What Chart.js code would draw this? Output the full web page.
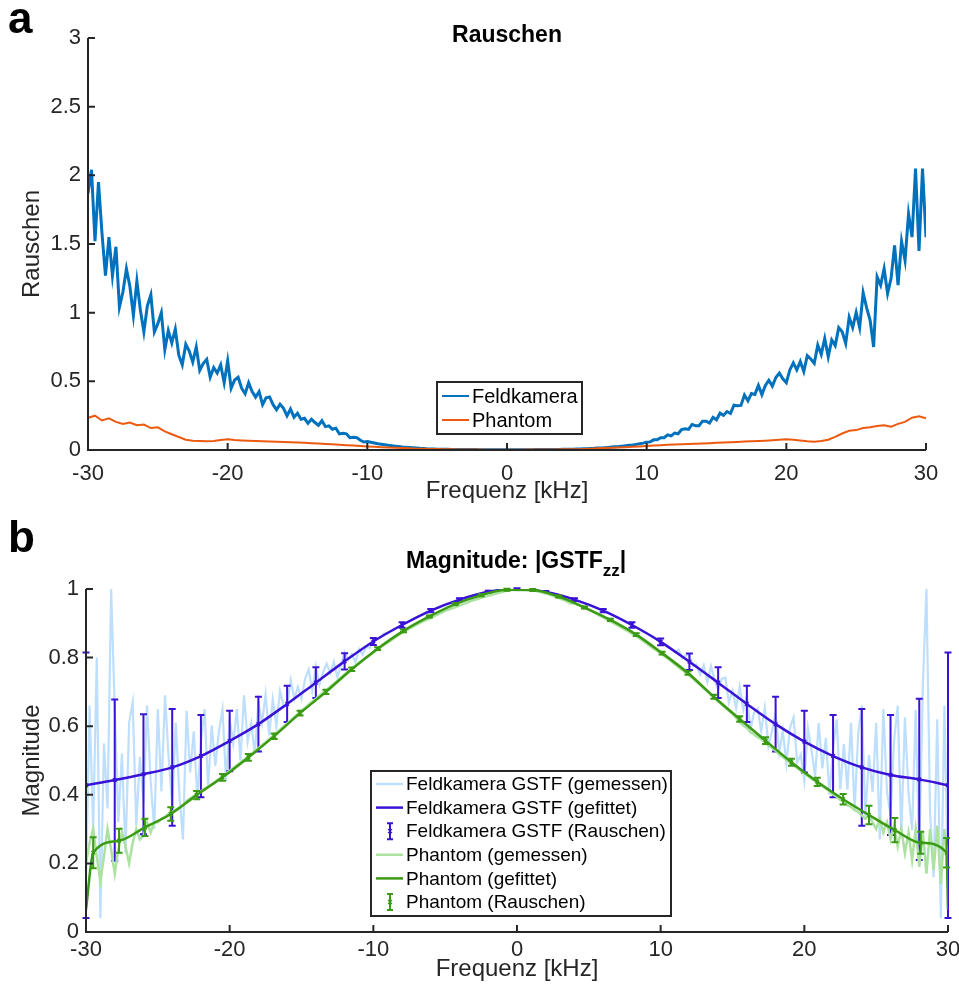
<!DOCTYPE html>
<html>
<head>
<meta charset="utf-8">
<script src="https://cdn.jsdelivr.net/npm/chart.js@4.4.1/dist/chart.umd.min.js"></script>
<style>
  html, body { margin: 0; padding: 0; background: #fff; }
  body { width: 959px; height: 989px; position: relative; overflow: hidden; }
  .panel { position: absolute; left: 0; width: 959px; }
</style>
</head>
<body>
<div class="panel" style="top:0;height:515px"><canvas id="chartA"></canvas></div>
<div class="panel" style="top:500px;height:489px"><canvas id="chartB"></canvas></div>
<script>
// ---- panel a: Rauschen ----
// Feldkamera, sampled every 0.25 kHz from -30 to 30
const feldRauschen = [
  1.87, 2.04, 1.52, 1.95,  1.58, 1.27, 1.55, 1.27,  1.48, 1.04, 1.15, 1.32,  1.19, 0.98, 1.23, 1.02,
  0.86, 1.05, 1.13, 0.86,  0.92, 1.00, 0.73, 0.87,  0.78, 0.88, 0.69, 0.62,  0.77, 0.72, 0.64, 0.75,
  0.58, 0.63, 0.66, 0.53,  0.60, 0.56, 0.62, 0.49,  0.65, 0.45, 0.51, 0.53,  0.45, 0.41, 0.49, 0.425,
  0.385, 0.425, 0.33, 0.38,  0.386, 0.33, 0.293, 0.333,  0.304, 0.249, 0.298, 0.239,  0.267, 0.224, 0.231, 0.194,
  0.225, 0.20, 0.18, 0.213,  0.17, 0.176, 0.151, 0.159,  0.117, 0.122, 0.118, 0.09,  0.093, 0.09, 0.071, 0.058,
  0.062, 0.056, 0.051, 0.046,  0.042, 0.038, 0.034, 0.031,  0.028, 0.025, 0.022, 0.020,  0.018, 0.016, 0.014, 0.012,
  0.011, 0.009, 0.008, 0.007,  0.006, 0.006, 0.005, 0.005,  0.004, 0.004, 0.004, 0.003,  0.003, 0.003, 0.003, 0.003,
  0.002, 0.002, 0.002, 0.002,  0.002, 0.002, 0.002, 0.002,
  0.002,
  0.002, 0.002, 0.002,  0.002, 0.002, 0.002, 0.002,  0.003, 0.003, 0.003, 0.003,  0.003, 0.004, 0.004, 0.004,
  0.005, 0.005, 0.006, 0.006,  0.007, 0.008, 0.009, 0.010,  0.011, 0.012, 0.014, 0.015,  0.017, 0.019, 0.021, 0.023,
  0.025, 0.028, 0.031, 0.034,  0.037, 0.041, 0.045, 0.050,  0.057, 0.059, 0.074, 0.075,  0.089, 0.089, 0.11, 0.103,
  0.123, 0.118, 0.149, 0.155,  0.15, 0.186, 0.177, 0.177,  0.21, 0.21, 0.197, 0.237,  0.22, 0.268, 0.252, 0.28,
  0.266, 0.326, 0.322, 0.325,  0.40, 0.358, 0.411, 0.405,  0.47, 0.403, 0.47, 0.508,  0.465, 0.528, 0.56, 0.518,
  0.49, 0.583, 0.634, 0.583,  0.645, 0.572, 0.687, 0.663,  0.632, 0.764, 0.696, 0.812,  0.679, 0.801, 0.76, 0.891,
  0.861, 0.776, 0.966, 0.892,  1.002, 0.892, 1.145, 1.035,  0.945, 0.75, 1.26, 1.20,  1.32, 1.14, 1.25, 1.49,
  1.20, 1.52, 1.38, 1.72,  1.55, 2.05, 1.45, 2.05,
  1.55
];
// Phantom, sampled every 0.5 kHz from -30 to 30
const phantomRauschen = [
  0.235, 0.25,  0.215, 0.23,  0.205, 0.19,  0.20, 0.18,  0.185, 0.16,  0.165, 0.135,  0.115, 0.095,  0.075, 0.068,
  0.065, 0.063,  0.066, 0.072,  0.078, 0.072,  0.07, 0.068,  0.066, 0.064,  0.062, 0.06,  0.058, 0.056,  0.054, 0.052,
  0.05, 0.047,  0.044, 0.041,  0.038, 0.035,  0.032, 0.029,  0.026, 0.023,  0.02, 0.018,  0.016, 0.014,  0.012, 0.01,
  0.009, 0.008,  0.007, 0.006,  0.005, 0.004,  0.004, 0.003,  0.003, 0.002,  0.002, 0.002,
  0.002,
  0.002,  0.002, 0.003,  0.003, 0.003,  0.004, 0.004,  0.005, 0.005,  0.006, 0.008,  0.010, 0.012,  0.014, 0.016,
  0.018, 0.020,  0.023, 0.026,  0.029, 0.032,  0.035, 0.038,  0.040, 0.042,  0.044, 0.046,  0.048, 0.050,  0.052, 0.055,
  0.057, 0.059,  0.061, 0.063,  0.065, 0.068,  0.071, 0.075,  0.078, 0.074,  0.070, 0.064,  0.060, 0.065,  0.075, 0.095,
  0.12, 0.14,  0.145, 0.16,  0.165, 0.175,  0.18, 0.17,  0.19, 0.205,  0.235, 0.245,
  0.23
];

// ---- panel b: Magnitude |GSTF_zz| ----
// measured, every 0.25 kHz from -30 to 30
const feldGemessen = [
  0.15, 0.66, 0.30, 0.80,  0.04, 0.55, 0.36, 1.00,  0.65, 0.32, 0.52, 0.23,  0.61, 0.67, 0.31, 0.51,
  0.38, 0.66, 0.44, 0.30,  0.65, 0.41, 0.69, 0.51,  0.37, 0.61, 0.40, 0.27,  0.645, 0.465, 0.585, 0.39,
  0.554, 0.65, 0.422, 0.602,  0.484, 0.583, 0.649, 0.44,  0.62, 0.55, 0.65, 0.50,  0.69, 0.555, 0.609, 0.519,
  0.672, 0.609, 0.693, 0.574,  0.678, 0.60, 0.702, 0.66,  0.66, 0.735, 0.68, 0.715,  0.68, 0.738, 0.765, 0.702,
  0.775, 0.722, 0.757, 0.782,  0.755, 0.788, 0.743, 0.779,  0.816, 0.794, 0.81, 0.786,  0.825, 0.809, 0.832, 0.828,
  0.847, 0.855, 0.86, 0.87,  0.872, 0.878, 0.885, 0.89,  0.895, 0.90, 0.906, 0.912,  0.917, 0.922, 0.927, 0.932,
  0.937, 0.941, 0.945, 0.949,  0.953, 0.957, 0.961, 0.965,  0.969, 0.972, 0.975, 0.978,  0.981, 0.984, 0.986, 0.988,
  0.991, 0.993, 0.995, 0.996,  0.997, 0.998, 0.999, 1.0,
  1.0,
  1.0, 0.999, 0.998,  0.997, 0.996, 0.995, 0.993,  0.991, 0.988, 0.986, 0.984,  0.981, 0.978, 0.975, 0.972,
  0.969, 0.965, 0.961, 0.957,  0.953, 0.949, 0.945, 0.941,  0.937, 0.932, 0.927, 0.922,  0.917, 0.912, 0.906, 0.90,
  0.895, 0.89, 0.885, 0.878,  0.872, 0.866, 0.86, 0.853,  0.846, 0.84, 0.832, 0.824,  0.816, 0.823, 0.798, 0.806,
  0.808, 0.775, 0.78, 0.75,  0.778, 0.729, 0.775, 0.735,  0.706, 0.738, 0.742, 0.669,  0.704, 0.653, 0.715, 0.647,
  0.69, 0.59, 0.64, 0.65,  0.586, 0.654, 0.542, 0.586,  0.64, 0.523, 0.588, 0.492,  0.595, 0.626, 0.495, 0.517,
  0.44, 0.595, 0.53, 0.455,  0.609, 0.477, 0.566, 0.40,  0.536, 0.62, 0.416, 0.548,  0.415, 0.61, 0.355, 0.58,
  0.66, 0.336, 0.516, 0.408,  0.61, 0.27, 0.65, 0.41,  0.34, 0.56, 0.66, 0.28,  0.626, 0.406, 0.296, 0.648,
  0.22, 0.72, 1.00, 0.35,  0.16, 0.62, 0.04, 0.66,
  0.15
];
const phantomGemessen = [
  0.20, 0.26, 0.30, 0.22,  0.15, 0.22, 0.30, 0.24,  0.17, 0.24, 0.29, 0.25,  0.20, 0.26, 0.30, 0.27,
  0.28, 0.32, 0.29, 0.32,  0.32, 0.33, 0.335, 0.345,  0.35, 0.356, 0.363, 0.37,  0.382, 0.389, 0.396, 0.403,
  0.41, 0.418, 0.425, 0.431,  0.438, 0.446, 0.454, 0.462,  0.47, 0.478, 0.486, 0.494,  0.502, 0.511, 0.519, 0.528,
  0.536, 0.545, 0.553, 0.562,  0.571, 0.58, 0.59, 0.599,  0.608, 0.617, 0.627, 0.636,  0.645, 0.654, 0.663, 0.672,
  0.68, 0.689, 0.698, 0.706,  0.715, 0.724, 0.733, 0.742,  0.751, 0.76, 0.768, 0.776,  0.784, 0.792, 0.80, 0.807,
  0.815, 0.822, 0.83, 0.837,  0.844, 0.851, 0.858, 0.865,  0.872, 0.878, 0.884, 0.89,  0.896, 0.901, 0.906, 0.911,
  0.916, 0.921, 0.926, 0.931,  0.936, 0.94, 0.944, 0.948,  0.952, 0.956, 0.96, 0.964,  0.968, 0.971, 0.974, 0.977,
  0.98, 0.983, 0.986, 0.989,  0.992, 0.995, 0.997, 0.999,
  1.0,
  1.0, 0.999, 0.998,  0.997, 0.995, 0.993, 0.99,  0.987, 0.984, 0.98, 0.976,  0.972, 0.968, 0.963, 0.958,
  0.958, 0.954, 0.95, 0.945,  0.94, 0.934, 0.928, 0.922,  0.917, 0.912, 0.906, 0.90,  0.894, 0.888, 0.882, 0.876,
  0.87, 0.864, 0.857, 0.849,  0.842, 0.834, 0.827, 0.82,  0.813, 0.805, 0.797, 0.789,  0.78, 0.772, 0.764, 0.756,
  0.748, 0.739, 0.729, 0.72,  0.71, 0.701, 0.691, 0.682,  0.672, 0.663, 0.654, 0.645,  0.636, 0.624, 0.612, 0.602,
  0.595, 0.583, 0.576, 0.568,  0.562, 0.553, 0.544, 0.537,  0.528, 0.518, 0.51, 0.502,  0.494, 0.485, 0.478, 0.47,
  0.462, 0.455, 0.447, 0.44,  0.432, 0.425, 0.418, 0.41,  0.40, 0.395, 0.385, 0.38,  0.37, 0.365, 0.355, 0.35,
  0.34, 0.33, 0.34, 0.32,  0.30, 0.33, 0.29, 0.32,  0.27, 0.31, 0.25, 0.30,  0.23, 0.29, 0.21, 0.30,
  0.19, 0.29, 0.17, 0.30,  0.18, 0.31, 0.14, 0.30,
  0.20
];

// fitted + noise (error bars)
const feldX = [-30, -28, -26, -24, -22, -20, -18, -16, -14, -12, -10, -8, -6, -4, -2, 0,
               2, 4, 6, 8, 10, 12, 14, 16, 18, 20, 22, 24, 26, 28, 30];
const feldFit = [0.428, 0.443, 0.46, 0.48, 0.513, 0.557, 0.606, 0.665, 0.727, 0.789, 0.847, 0.895, 0.937, 0.969, 0.992, 1.0,
                 0.991, 0.969, 0.937, 0.895, 0.846, 0.788, 0.727, 0.665, 0.606, 0.555, 0.513, 0.48, 0.458, 0.445, 0.428];
const feldErr = [0.387, 0.235, 0.175, 0.17, 0.12, 0.088, 0.08, 0.053, 0.045, 0.024, 0.01, 0.008, 0.005, 0.004, 0.003, 0.002,
                 0.003, 0.004, 0.005, 0.008, 0.01, 0.024, 0.045, 0.053, 0.08, 0.09, 0.12, 0.17, 0.175, 0.235, 0.387];

const phantomX = [-29.5, -27.7, -25.9, -24.1, -22.3, -20.5, -18.7, -16.9, -15.1, -13.3, -11.5, -9.7, -7.9, -6.1, -4.3, -2.5, -0.7,
                  1.1, 2.9, 4.7, 6.5, 8.3, 10.1, 11.9, 13.7, 15.5, 17.3, 19.1, 20.9, 22.7, 24.5, 26.3, 28.1, 29.9];
const phantomFit = [0.231, 0.266, 0.305, 0.344, 0.399, 0.451, 0.509, 0.571, 0.638, 0.70, 0.766, 0.826, 0.878, 0.92, 0.956, 0.982, 0.998,
                    0.997, 0.978, 0.946, 0.91, 0.867, 0.813, 0.755, 0.686, 0.621, 0.558, 0.495, 0.438, 0.387, 0.341, 0.297, 0.26, 0.231];
const phantomErr = [0.045, 0.035, 0.025, 0.02, 0.012, 0.01, 0.01, 0.008, 0.007, 0.006, 0.005, 0.004, 0.004, 0.003, 0.003, 0.003, 0.003,
                    0.003, 0.003, 0.003, 0.003, 0.004, 0.004, 0.005, 0.006, 0.008, 0.01, 0.01, 0.012, 0.015, 0.027, 0.035, 0.032, 0.043];
// the fitted phantom curve drops at the band edges
const phantomFitEdgeX = [-30, 30];
const phantomFitEdgeY = [0.065, 0.064];

const xTicks = [-30, -20, -10, 0, 10, 20, 30];

const FONT = '"Liberation Sans", Arial, Helvetica, sans-serif';
const AXIS = '#262626';
const C = {
  feld: '#0072bd', phantom: '#ec5a10',
  feldMeas: '#bddffd', feldFit: '#3a12d6',
  phMeas: '#abe29f', phFit: '#3b9a14'
};

Chart.defaults.font.family = FONT;
Chart.defaults.color = AXIS;

function grid(n, step) {
  const g = [];
  for (let i = 0; i < n; i++) g.push(-30 + i * step);
  return g;
}
const pts = (xs, ys) => xs.map((x, i) => ({ x, y: ys[i] }));

const freq025 = grid(241, 0.25);
const freq05 = grid(121, 0.5);

const errorBars = {
  id: 'errorBars',
  afterDatasetDraw(chart, args) {
    const ds = chart.data.datasets[args.index];
    if (!ds.errors) return;
    const { ctx, scales: { x, y } } = chart;
    ctx.save();
    ctx.strokeStyle = ds.borderColor;
    ctx.lineWidth = 2;
    ctx.beginPath();
    ds.data.forEach((p, i) => {
      const px = x.getPixelForValue(p.x);
      const top = y.getPixelForValue(p.y + ds.errors[i]);
      const bot = y.getPixelForValue(p.y - ds.errors[i]);
      ctx.moveTo(px, top); ctx.lineTo(px, bot);
      ctx.moveTo(px - 3.5, top); ctx.lineTo(px + 3.5, top);
      ctx.moveTo(px - 3.5, bot); ctx.lineTo(px + 3.5, bot);
    });
    ctx.stroke();
    ctx.restore();
  }
};

function decor(cfg) {
  return {
    id: 'decor',
    afterDraw(chart) {
      const { ctx, chartArea: a, scales: { x, y } } = chart;
      ctx.save();
      // axes + inward ticks
      ctx.strokeStyle = AXIS;
      ctx.lineWidth = 2;
      ctx.beginPath();
      ctx.moveTo(a.left, a.top); ctx.lineTo(a.left, a.bottom); ctx.lineTo(a.right, a.bottom);
      x.ticks.forEach(t => {
        const px = x.getPixelForValue(t.value);
        ctx.moveTo(px, a.bottom); ctx.lineTo(px, a.bottom - 7);
      });
      y.ticks.forEach(t => {
        const py = y.getPixelForValue(t.value);
        ctx.moveTo(a.left, py); ctx.lineTo(a.left + 7, py);
      });
      ctx.stroke();

      // panel letter
      ctx.fillStyle = '#000';
      ctx.font = 'bold 44px ' + FONT;
      ctx.textAlign = 'left';
      ctx.textBaseline = 'alphabetic';
      ctx.fillText(cfg.letter, 8, cfg.letterY);

      // title (with optional subscript part)
      const parts = cfg.title;
      const fontFor = p => 'bold ' + (p.sub ? 17 : 23) + 'px ' + FONT;
      let total = 0;
      parts.forEach(p => { ctx.font = fontFor(p); total += ctx.measureText(p.text).width; });
      let tx = cfg.titleX - total / 2;
      ctx.textBaseline = 'middle';
      parts.forEach(p => {
        ctx.font = fontFor(p);
        ctx.fillText(p.text, tx, cfg.titleY + (p.sub ? 9 : 0));
        tx += ctx.measureText(p.text).width;
      });

      // legend
      const L = cfg.legend;
      ctx.fillStyle = '#fff';
      ctx.fillRect(L.x, L.y, L.w, L.h);
      ctx.strokeStyle = AXIS;
      ctx.lineWidth = 2;
      ctx.strokeRect(L.x, L.y, L.w, L.h);
      ctx.font = L.size + 'px ' + FONT;
      ctx.textBaseline = 'middle';
      L.items.forEach((it, i) => {
        const ry = L.y + L.row0 + i * L.gap;
        ctx.strokeStyle = it.color;
        ctx.lineWidth = it.width;
        ctx.beginPath();
        if (it.err) {
          const cx = L.x + 19;
          ctx.moveTo(cx, ry - 8); ctx.lineTo(cx, ry + 8);
          ctx.moveTo(cx - 3, ry - 8); ctx.lineTo(cx + 3, ry - 8);
          ctx.moveTo(cx - 3, ry + 8); ctx.lineTo(cx + 3, ry + 8);
          ctx.stroke();
          ctx.lineWidth = 1.2;
          ctx.beginPath();
          ctx.moveTo(cx - 2, ry - 2); ctx.lineTo(cx + 2, ry + 2);
          ctx.moveTo(cx - 2, ry + 2); ctx.lineTo(cx + 2, ry - 2);
        } else {
          ctx.moveTo(L.x + 5, ry); ctx.lineTo(L.x + L.lineEnd, ry);
        }
        ctx.stroke();
        ctx.fillStyle = '#000';
        ctx.fillText(it.label, L.x + L.textX, ry + 1);
      });
      ctx.restore();
    }
  };
}

const fmt = v => String(+Number(v).toFixed(2));

function axes(yMax, yStep, yLabel, yWidth, xHeight, xPad, xTitlePad) {
  return {
    x: {
      type: 'linear', min: -30, max: 30,
      afterBuildTicks: s => { s.ticks = xTicks.map(v => ({ value: v })); },
      grid: { display: false, drawTicks: false },
      border: { display: false },
      ticks: { font: { size: 22 }, color: AXIS, padding: xPad, maxRotation: 0, callback: fmt },
      title: { display: true, text: 'Frequenz [kHz]', font: { size: 24 }, color: AXIS, padding: { top: 0, bottom: xTitlePad } },
      afterFit: s => { s.height = xHeight; s.paddingLeft = 0; s.paddingRight = 0; }
    },
    y: {
      type: 'linear', min: 0, max: yMax,
      grid: { display: false, drawTicks: false },
      border: { display: false },
      ticks: { stepSize: yStep, font: { size: 22 }, color: AXIS, padding: 7, callback: fmt },
      title: { display: true, text: yLabel, font: { size: 24 }, color: AXIS, padding: { top: 18, bottom: 0 } },
      afterFit: s => { s.width = yWidth; s.paddingTop = 0; s.paddingBottom = 0; }
    }
  };
}

const common = {
  responsive: true,
  maintainAspectRatio: false,
  animation: false,
  events: [],
  plugins: { legend: { display: false }, tooltip: { enabled: false }, title: { display: false } }
};

// ---- chart a ----
new Chart(document.getElementById('chartA'), {
  type: 'line',
  data: {
    datasets: [
      { label: 'Feldkamera', data: pts(freq025, feldRauschen), borderColor: C.feld, borderWidth: 3, pointRadius: 0, tension: 0, order: 2 },
      { label: 'Phantom', data: pts(freq05, phantomRauschen), borderColor: C.phantom, borderWidth: 2, pointRadius: 0, tension: 0, order: 1 }
    ]
  },
  options: Object.assign({}, common, {
    layout: { padding: { left: 0, right: 33, top: 38, bottom: 5 } },
    scales: axes(3, 0.5, 'Rauschen', 88, 60, 11, 4)
  }),
  plugins: [decor({
    letter: 'a', letterY: 33,
    title: [{ text: 'Rauschen' }], titleX: 507, titleY: 36,
    legend: {
      x: 437, y: 382, w: 145, h: 52, row0: 14, gap: 24, size: 20, lineEnd: 32, textX: 35,
      items: [
        { label: 'Feldkamera', color: C.feld, width: 2 },
        { label: 'Phantom', color: C.phantom, width: 2 }
      ]
    }
  })]
});

// ---- chart b ----
new Chart(document.getElementById('chartB'), {
  type: 'line',
  data: {
    datasets: [
      { label: 'Feldkamera GSTF (gemessen)', data: pts(freq025, feldGemessen), borderColor: C.feldMeas, borderWidth: 2.2, pointRadius: 0, tension: 0, order: 6 },
      { label: 'Feldkamera GSTF (gefittet)', data: pts(feldX, feldFit), borderColor: C.feldFit, borderWidth: 2.5, pointRadius: 0, cubicInterpolationMode: 'monotone', order: 5 },
      { label: 'Feldkamera GSTF (Rauschen)', data: pts(feldX, feldFit), errors: feldErr, showLine: false, borderColor: C.feldFit, backgroundColor: C.feldFit,
        pointStyle: 'crossRot', pointRadius: 2.5, pointBorderWidth: 1.5, order: 4 },
      { label: 'Phantom (gemessen)', data: pts(freq025, phantomGemessen), borderColor: C.phMeas, borderWidth: 2.5, pointRadius: 0, tension: 0, order: 3 },
      { label: 'Phantom (gefittet)', data: [{ x: phantomFitEdgeX[0], y: phantomFitEdgeY[0] }].concat(pts(phantomX, phantomFit), [{ x: phantomFitEdgeX[1], y: phantomFitEdgeY[1] }]),
        borderColor: C.phFit, borderWidth: 2.5, pointRadius: 0, cubicInterpolationMode: 'monotone', order: 2 },
      { label: 'Phantom (Rauschen)', data: pts(phantomX, phantomFit), errors: phantomErr, showLine: false, borderColor: C.phFit, backgroundColor: C.phFit,
        pointStyle: 'crossRot', pointRadius: 2.5, pointBorderWidth: 1.5, order: 1 }
    ]
  },
  options: Object.assign({}, common, {
    layout: { padding: { left: 0, right: 11, top: 89, bottom: 2 } },
    scales: axes(1, 0.2, 'Magnitude', 86, 55, 5, 3)
  }),
  plugins: [errorBars, decor({
    letter: 'b', letterY: 52,
    title: [{ text: 'Magnitude: |GSTF' }, { text: 'zz', sub: true }, { text: '|' }], titleX: 516, titleY: 62,
    legend: {
      x: 371, y: 271, w: 300, h: 145, row0: 13, gap: 23.6, size: 19, lineEnd: 32, textX: 35,
      items: [
        { label: 'Feldkamera GSTF (gemessen)', color: C.feldMeas, width: 2.5 },
        { label: 'Feldkamera GSTF (gefittet)', color: C.feldFit, width: 2.5 },
        { label: 'Feldkamera GSTF (Rauschen)', color: C.feldFit, width: 2, err: true },
        { label: 'Phantom (gemessen)', color: C.phMeas, width: 2.5 },
        { label: 'Phantom (gefittet)', color: C.phFit, width: 2.5 },
        { label: 'Phantom (Rauschen)', color: C.phFit, width: 2, err: true }
      ]
    }
  })]
});
</script>
</body>
</html>
